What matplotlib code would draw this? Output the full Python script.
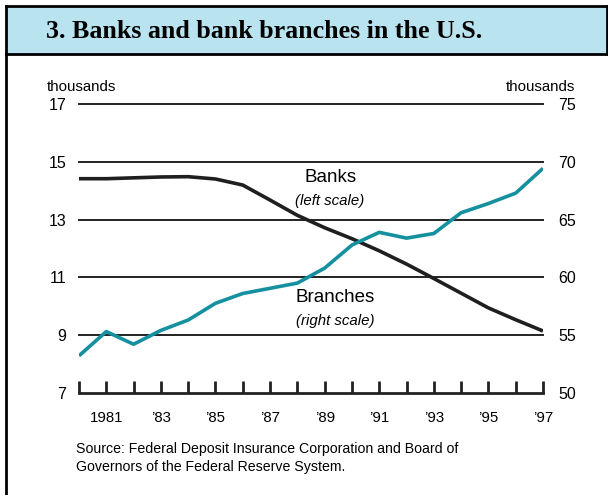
import numpy as np
import matplotlib.pyplot as plt
from matplotlib.patches import Rectangle
from matplotlib.lines import Line2D

plt.rcParams['font.family'] = ['Liberation Sans', 'DejaVu Sans']

# Данные (тысячи)
years = np.arange(1980, 1998)
banks = [14.42, 14.42, 14.45, 14.48, 14.49, 14.41, 14.20, 13.68, 13.15, 12.72,
         12.34, 11.92, 11.46, 10.96, 10.45, 9.94, 9.53, 9.14]
branches = [53.2, 55.3, 54.2, 55.4, 56.3, 57.75, 58.6, 59.05, 59.5, 60.8,
            62.8, 63.9, 63.4, 63.8, 65.6, 66.4, 67.3, 69.45]
tick_years = list(range(1981, 1998, 2))
tick_labels = ['1981', '\u201983', '\u201985', '\u201987', '\u201989',
               '\u201991', '\u201993', '\u201995', '\u201997']
left_ticks = [7, 9, 11, 13, 15, 17]
right_ticks = [50, 55, 60, 65, 70, 75]

W, H = 608, 495
fig = plt.figure(figsize=(W / 100, H / 100), dpi=100)

# рамка и заголовок
fig.patches.append(Rectangle((6 / W, 1 - 54 / H), 1 - 6 / W, 48 / H,
                             transform=fig.transFigure, facecolor='#b9e3ef',
                             edgecolor='none', zorder=0))
fig.add_artist(Line2D([6 / W, 1], [1 - 6 / H, 1 - 6 / H], color='black', lw=2))
fig.add_artist(Line2D([6 / W, 1], [1 - 54 / H, 1 - 54 / H], color='black', lw=2))
fig.add_artist(Line2D([6 / W, 6 / W], [0, 1 - 6 / H], color='black', lw=2))
fig.add_artist(Line2D([606.5 / W, 606.5 / W], [1 - 54 / H, 1 - 6 / H], color='black', lw=2))
fig.text(46.5 / W, 1 - 38.5 / H, '3. Banks and bank branches in the U.S.',
         family='Liberation Serif', fontweight='bold', fontsize=18.7, va='baseline')

ax = fig.add_axes([79 / W, 1 - 392.7 / H, (543 - 79) / W, (392.7 - 104.3) / H])
ax2 = ax.twinx()

ax.set_xlim(1980, 1997)
ax.set_ylim(7, 17)
ax2.set_ylim(50, 75)

for v in left_ticks[1:]:
    ax.axhline(v, color='#222222', lw=1.4, zorder=1, clip_on=False)

ax.plot(years, banks, color='#1f1f1f', lw=2.6, zorder=3, solid_capstyle='butt')
ax2.plot(years, branches, color='#14909f', lw=2.6, zorder=3, solid_capstyle='butt')

for a in (ax, ax2):
    for s in a.spines.values():
        s.set_visible(False)
ax.spines['bottom'].set_visible(True)
ax.spines['bottom'].set_linewidth(2)
ax.spines['bottom'].set_color('#222222')

ax.set_yticks(left_ticks)
ax.set_yticklabels([str(v) for v in left_ticks], fontsize=11.5)
ax.tick_params(axis='y', length=0, pad=9)
ax2.set_yticks(right_ticks)
ax2.set_yticklabels([str(v) for v in right_ticks], fontsize=11.5)
ax2.tick_params(axis='y', length=0, pad=11)

ax.set_xticks(years, minor=True)
ax.set_xticks(tick_years)
ax.set_xticklabels(tick_labels, fontsize=10.8)
ax.tick_params(axis='x', which='both', direction='in', length=9, width=2,
               color='#222222', pad=13)

ax.text(-0.069, 1.045, 'thousands', transform=ax.transAxes, fontsize=10.8, ha='left')
ax2.text(1.07, 1.045, 'thousands', transform=ax.transAxes, fontsize=10.8, ha='right')

ax.text(1989.2, 14.45, 'Banks', fontsize=13.5, ha='center', va='center')
ax.text(1989.2, 13.65, '(left scale)', fontsize=10.8, style='italic', ha='center', va='center')
ax.text(1989.4, 10.3, 'Branches', fontsize=13.5, ha='center', va='center')
ax.text(1989.4, 9.5, '(right scale)', fontsize=10.8, style='italic', ha='center', va='center')

fig.text(76 / W, 1 - 449 / H, 'Source: Federal Deposit Insurance Corporation and Board of',
         fontsize=10.2, va='center')
fig.text(76 / W, 1 - 467 / H, 'Governors of the Federal Reserve System.',
         fontsize=10.2, va='center')

fig.savefig('out.png', dpi=100)
